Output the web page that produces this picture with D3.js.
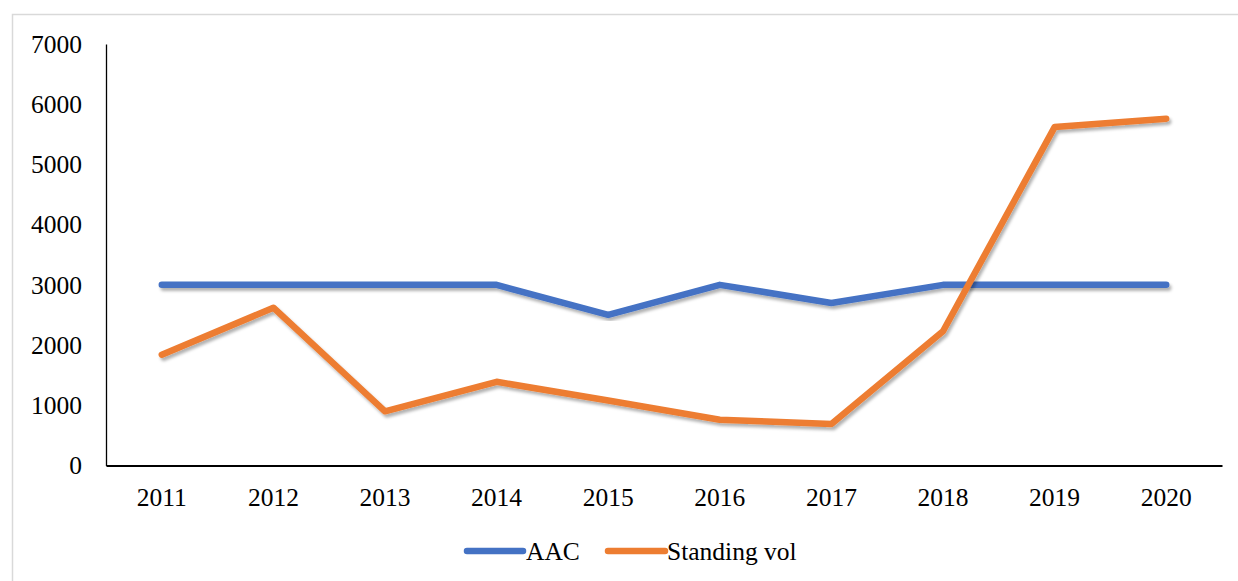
<!DOCTYPE html>
<html>
<head>
<meta charset="utf-8">
<script src="https://cdn.jsdelivr.net/npm/d3@7"></script>
<style>
  body { margin: 0; background: #fff; }
  text { font-family: "Liberation Serif", "Times New Roman", serif; fill: #000; }
</style>
</head>
<body>
<div id="chart-area"></div>
<script>
const years = ['2011', '2012', '2013', '2014', '2015', '2016', '2017', '2018', '2019', '2020'];
const aac = [3000, 3000, 3000, 3000, 2500, 3000, 2700, 3000, 3000, 3000];
const standingVol = [1840, 2620, 900, 1390, 1080, 760, 690, 2230, 5620, 5760];
const yTicks = [0, 1000, 2000, 3000, 4000, 5000, 6000, 7000];

const series = [
    { name: 'AAC', values: aac, color: '#4472C4' },
    { name: 'Standing vol', values: standingVol, color: '#ED7D31' }
];

const W = 1238, H = 581;
const margin = { top: 44, right: 16, bottom: 115.5, left: 106 },
    width  = W - margin.left - margin.right,
    height = H - margin.top - margin.bottom;

const root = d3.select('#chart-area')
    .append('svg')
    .attr('width', W)
    .attr('height', H);

// soft drop shadow under the lines
const filter = root.append('defs').append('filter')
    .attr('id', 'shadow')
    .attr('x', '-5%').attr('y', '-20%')
    .attr('width', '110%').attr('height', '140%');
filter.append('feDropShadow')
    .attr('dx', 2).attr('dy', 3)
    .attr('stdDeviation', 1.6)
    .attr('flood-color', '#000')
    .attr('flood-opacity', 0.3);

// chart frame (only left and top edge are visible)
root.append('path')
    .attr('d', `M12.5,${H} V14.5 H${W}`)
    .attr('fill', 'none')
    .attr('stroke', '#d9d9d9')
    .attr('stroke-width', 1.5);

const svg = root.append('g')
    .attr('transform', `translate(${margin.left},${margin.top})`);

const x = d3.scaleBand()
    .domain(years)
    .range([0, width]);

const y = d3.scaleLinear()
    .domain([0, 7000])
    .range([height, 0]);

const yAxis = svg.append('g')
    .call(d3.axisLeft(y).tickValues(yTicks).tickSize(0).tickPadding(24).tickFormat(d3.format('d')));
yAxis.select('.domain').attr('stroke', '#000').attr('stroke-width', 1.3);
yAxis.selectAll('text').style('font-size', '25.5px').style('font-family', '"Liberation Serif", serif');

const xAxis = svg.append('g')
    .attr('transform', `translate(0, ${height})`)
    .call(d3.axisBottom(x).tickSize(0).tickPadding(22));
xAxis.select('.domain').attr('stroke', '#000').attr('stroke-width', 2.2);
xAxis.selectAll('text').style('font-size', '25.5px').style('font-family', '"Liberation Serif", serif');

const line = d3.line()
    .x((d, i) => x(years[i]) + x.bandwidth() / 2)
    .y(d => y(d));

svg.selectAll('.series')
    .data(series)
    .enter()
    .append('path')
    .attr('class', 'series')
    .attr('d', d => line(d.values))
    .attr('fill', 'none')
    .attr('stroke', d => d.color)
    .attr('stroke-width', 6.5)
    .attr('stroke-linecap', 'round')
    .attr('stroke-linejoin', 'round')
    .attr('filter', 'url(#shadow)');

// legend
const legendY = 551;
const legend = root.append('g');
const items = [
    { x1: 467, x2: 523, tx: 526 },
    { x1: 608, x2: 665, tx: 667 }
];
series.forEach((s, i) => {
    const it = items[i];
    legend.append('line')
        .attr('x1', it.x1).attr('x2', it.x2)
        .attr('y1', legendY).attr('y2', legendY)
        .attr('stroke', s.color)
        .attr('stroke-width', 6.5)
        .attr('stroke-linecap', 'round');
    legend.append('text')
        .attr('x', it.tx)
        .attr('y', legendY + 8.5)
        .style('font-size', '25.5px')
        .text(s.name);
});
</script>
</body>
</html>
